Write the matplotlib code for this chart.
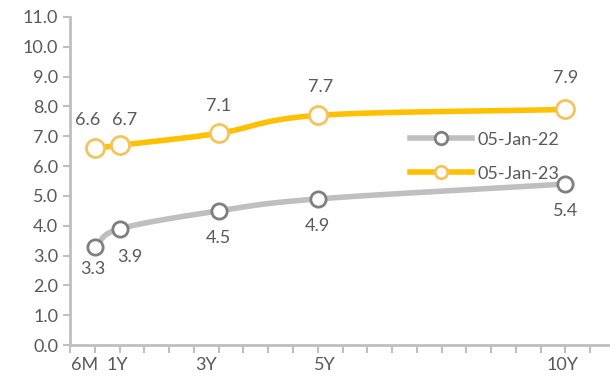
import numpy as np
import matplotlib.pyplot as plt

# tenor positions in years and labels
tenor_years = [0.5, 1, 3, 5, 10]
tenor_labels = ['6M', '1Y', '3Y', '5Y', '10Y']

yields_22 = [3.3, 3.9, 4.5, 4.9, 5.4]
yields_23 = [6.6, 6.7, 7.1, 7.7, 7.9]

TXT = '#595959'
GREY = '#BFBFBF'
plt.rcParams['font.family'] = ['Lato', 'DejaVu Sans']


def smooth(x, y, n=30):
    # catmull-rom style curve through the points (Excel "smoothed line")
    x = np.asarray(x, float)
    y = np.asarray(y, float)
    px = np.concatenate([[2 * x[0] - x[1]], x, [2 * x[-1] - x[-2]]])
    py = np.concatenate([[2 * y[0] - y[1]], y, [2 * y[-1] - y[-2]]])
    xs, ys = [], []
    t = np.linspace(0, 1, n)
    for i in range(1, len(px) - 2):
        for arr, out in ((px, xs), (py, ys)):
            p0, p1, p2, p3 = arr[i - 1], arr[i], arr[i + 1], arr[i + 2]
            out.extend(0.5 * (2 * p1 + (-p0 + p2) * t
                              + (2 * p0 - 5 * p1 + 4 * p2 - p3) * t ** 2
                              + (-p0 + 3 * p1 - 3 * p2 + p3) * t ** 3))
    return np.array(xs), np.array(ys)


fig = plt.figure(figsize=(6.1, 3.76), dpi=100)
ax = fig.add_axes([0.115, 0.082, 0.885, 0.873])

sx, sy = smooth(tenor_years, yields_22)
ax.plot(sx, sy, color='#BFBFBF', lw=4, solid_capstyle='round', zorder=2)
ax.plot(tenor_years, yields_22, 'o', ms=11, mfc='white', mec='#7F7F7F', mew=2, zorder=3)
ax.plot([], [], color='#BFBFBF', lw=4, marker='o', ms=9, mfc='white', mec='#7F7F7F', mew=2,
        label='05-Jan-22')

sx, sy = smooth(tenor_years, yields_23)
ax.plot(sx, sy, color='#FFC000', lw=4, solid_capstyle='round', zorder=2)
ax.plot(tenor_years, yields_23, 'o', ms=13, mfc='white', mec='#F5C35C', mew=2, zorder=3)
ax.plot([], [], color='#FFC000', lw=4, marker='o', ms=9, mfc='white', mec='#F5C35C', mew=2,
        label='05-Jan-23')

FS = 13
# data labels
offs_22 = [(-0.05, -0.75), (0.2, -0.95), (0.0, -0.9), (0.0, -0.9), (0.0, -0.9)]
for x, y, (dx, dy) in zip(tenor_years, yields_22, offs_22):
    ax.text(x + dx, y + dy, f'{y:.1f}', ha='center', va='center', fontsize=FS, color=TXT)
offs_23 = [(-0.15, 0.95), (0.1, 0.85), (0.0, 0.9), (0.05, 0.95), (0.0, 1.05)]
for x, y, (dx, dy) in zip(tenor_years, yields_23, offs_23):
    ax.text(x + dx, y + dy, f'{y:.1f}', ha='center', va='center', fontsize=FS, color=TXT)

ax.set_xlim(0, 10.9)
ax.set_ylim(0, 11)
ax.set_yticks(np.arange(0, 11.5, 1.0))
ax.set_yticklabels([f'{v:.1f}' for v in np.arange(0, 11.5, 1.0)])
ax.set_xticks(np.arange(0, 10.6, 0.5))
ax.set_xticklabels([''] * len(np.arange(0, 10.6, 0.5)))
lab_dx = [-0.2, -0.05, -0.25, 0.15, -0.05]
for x, lab, dx in zip(tenor_years, tenor_labels, lab_dx):
    ax.text(x + dx, -0.38, lab, ha='center', va='top', fontsize=FS, color=TXT)

for s in ['top', 'right']:
    ax.spines[s].set_visible(False)
for s in ['left', 'bottom']:
    ax.spines[s].set_color(GREY)
    ax.spines[s].set_linewidth(2)
ax.tick_params(axis='y', colors=GREY, labelcolor=TXT, labelsize=FS, length=5, width=1.5)
ax.tick_params(axis='x', colors=GREY, length=6, width=1.5, direction='out')

ax.legend(loc='upper left', bbox_to_anchor=(0.6, 0.7), frameon=False, fontsize=FS,
          labelcolor=TXT, handlelength=3.4, handletextpad=0.3, labelspacing=1.0)

fig.savefig('out.png', dpi=100)
